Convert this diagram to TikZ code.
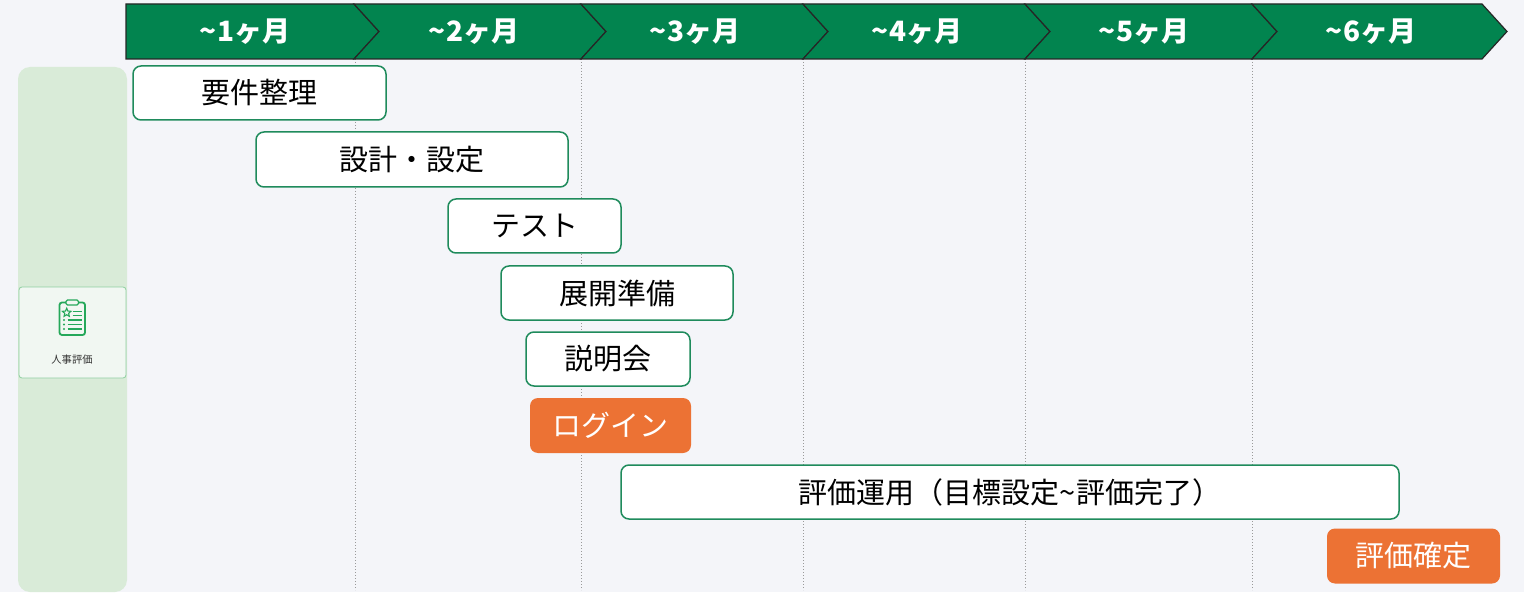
\documentclass[tikz,border=0pt]{standalone}
\usepackage{fontspec}
\setmainfont{Noto Sans CJK JP}
\usetikzlibrary{shapes.geometric}
\definecolor{bgc}{HTML}{F4F5F9}
\definecolor{hdr}{HTML}{02844F}
\definecolor{bord}{HTML}{1F8B5C}
\definecolor{org}{HTML}{EC7234}
\definecolor{lanec}{HTML}{D9EBD8}
\definecolor{cardc}{HTML}{F1F7F2}
\definecolor{cardb}{HTML}{8FCFA0}
\definecolor{iconc}{HTML}{25A85A}
\definecolor{gridc}{HTML}{9A9A9A}
\tikzset{
 taskbox/.style={draw=bord, line width=1.5pt, fill=white, rounded corners=8pt, inner sep=0pt, font=\fontsize{29}{32}\selectfont, text=black},
 milebox/.style={fill=org, rounded corners=8pt, inner sep=0pt, font=\fontsize{29}{32}\selectfont, text=white},
 seg/.style={fill=hdr, draw=black!85, line width=1.2pt, line join=miter},
 hlabel/.style={text=white, font=\fontsize{28}{32}\selectfont\bfseries, inner sep=0pt},
 gridline/.style={draw=gridc, dotted, line width=1pt},
}
\begin{document}
\begin{tikzpicture}[x=1pt,y=-1pt]
\useasboundingbox (0,0) rectangle (1524,596);
\fill[white] (0,0) rectangle (1524,596);
\fill[bgc] (0,0) rectangle (1524,592);
% grid lines
\foreach \gx in {355,581,803,1025,1252} \draw[gridline] (\gx,59) -- (\gx,590);
% header
\draw[seg] (126,4) -- (354,4) -- (379,31.5) -- (354,59) -- (126,59) -- cycle;
\foreach \a/\b in {354/581, 581/803, 803/1025, 1025/1252}
  \draw[seg] (\a,4) -- (\b,4) -- (\b+25,31.5) -- (\b,59) -- (\a,59) -- (\a+25,31.5) -- cycle;
\draw[seg] (1252,4) -- (1482,4) -- (1507,31.5) -- (1482,59) -- (1252,59) -- (1277,31.5) -- cycle;
\node[hlabel] (m1) at (245,32) {\textasciitilde 1ヶ月};
\node[hlabel] (m2) at (474,32) {\textasciitilde 2ヶ月};
\node[hlabel] (m3) at (695,32) {\textasciitilde 3ヶ月};
\node[hlabel] (m4) at (917,32) {\textasciitilde 4ヶ月};
\node[hlabel] (m5) at (1144,32) {\textasciitilde 5ヶ月};
\node[hlabel] (m6) at (1371,32) {\textasciitilde 6ヶ月};
% lane
\node[fill=lanec, rounded corners=12pt, minimum width=109pt, minimum height=525pt, inner sep=0pt] (lane) at (72.5,329.5) {};
\node[draw=cardb, fill=cardc, rounded corners=3pt, line width=0.8pt, minimum width=107pt, minimum height=91pt, inner sep=0pt] (card) at (72.5,332.5) {};
% icon
\draw[iconc, line width=1.8pt, rounded corners=2.5pt] (59.5,302.5) rectangle (85,335);
\draw[iconc, fill=cardc, line width=1.4pt, rounded corners=1.5pt] (66,300) rectangle (78.5,305);
\node[star, star points=5, star point ratio=2.2, draw=iconc, line width=1.1pt, minimum size=9pt, inner sep=0pt] (st) at (66.7,312.7) {};
\draw[iconc, line width=1.5pt] (72.5,311.5)--(81.5,311.5) (72.5,315.7)--(81.5,315.7)
  (67.7,320)--(81.5,320) (67.7,324.5)--(81.5,324.5) (67.7,329)--(81.5,329);
\fill[iconc] (64,320) circle (1.1pt) (64,324.5) circle (1.1pt) (64,329) circle (1.1pt);
\node[text=black!80, font=\fontsize{10.3}{12}\selectfont, inner sep=0pt] (cardlabel) at (72,359.5) {人事評価};
% tasks
\node[taskbox, minimum width=253pt, minimum height=54pt] (t1) at (259.5,93) {要件整理};
\node[taskbox, minimum width=312pt, minimum height=55pt] (t2) at (412,159.5) {設計・設定};
\node[taskbox, minimum width=173pt, minimum height=54pt] (t3) at (534.5,226) {テスト};
\node[taskbox, minimum width=232pt, minimum height=54pt] (t4) at (617,293) {展開準備};
\node[taskbox, minimum width=164pt, minimum height=54pt] (t5) at (608,359) {説明会};
\node[milebox, minimum width=161pt, minimum height=55pt] (t6) at (610.5,425.5) {ログイン};
\node[taskbox, minimum width=778pt, minimum height=54pt] (t7) at (1010,492) {評価運用（目標設定\textasciitilde 評価完了）};
\node[milebox, minimum width=173pt, minimum height=55pt] (t8) at (1413.5,556) {評価確定};
\end{tikzpicture}
\end{document}
